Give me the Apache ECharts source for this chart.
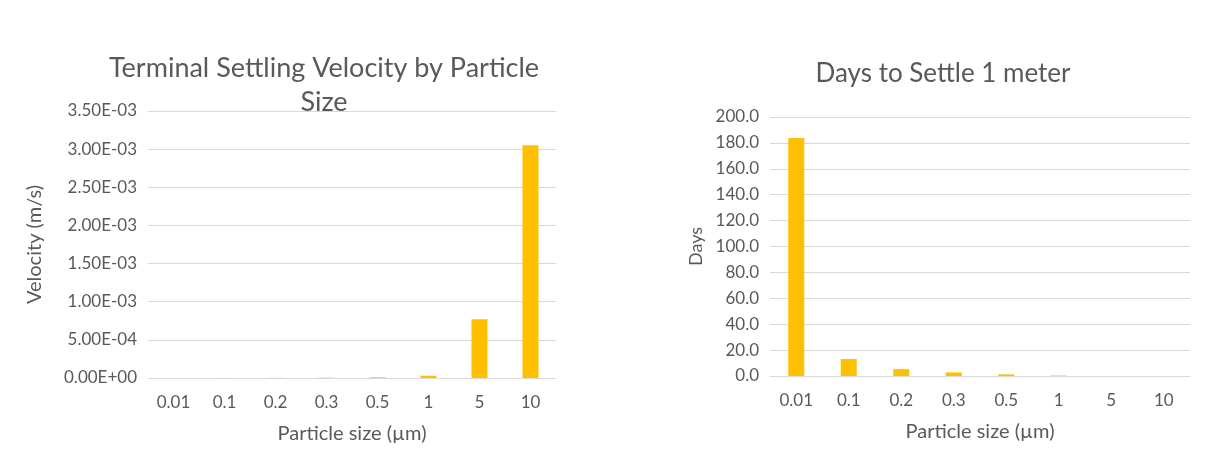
<!DOCTYPE html>
<html>
<head>
<meta charset="utf-8">
<script src="https://cdn.jsdelivr.net/npm/echarts@6/dist/echarts.min.js"></script>
<style>
  html, body { margin: 0; padding: 0; background: #fff; }
  #main { width: 1206px; height: 468px; }
</style>
</head>
<body>
<div id="main"></div>
<script>
// particle sizes in µm
let sizes = ['0.01', '0.1', '0.2', '0.3', '0.5', '1', '5', '10'];
// terminal settling velocity (m/s)
let velocity = [6.3e-8, 8.9e-7, 2.3e-6, 4.3e-6, 9.6e-6, 3.0e-5, 7.7e-4, 3.05e-3];
// days to settle 1 m
let days = [183.8, 13.1, 5.3, 2.8, 1.3, 0.4, 0.015, 0.004];

let txt = '#595959';
let font = 'Lato, "Open Sans", sans-serif';

let myChart = echarts.init(document.getElementById('main'));

function expLabel(v) {
    let s = Number(v).toExponential(2).toUpperCase();   // e.g. 3.50E-3
    return s.replace(/E([+-])(\d)$/, 'E$10$2');
}

let xAxisBase = {
    type: 'category',
    data: sizes,
    axisTick: { show: false },
    axisLine: { lineStyle: { color: '#d9d9d9', width: 1 } },
    axisLabel: { color: txt, fontSize: 17, fontFamily: font, margin: 16 },
    name: 'Particle size (µm)',
    nameLocation: 'middle',
    nameGap: 46,
    nameTextStyle: { color: txt, fontSize: 20, fontFamily: font }
};

let option = {
    animation: false,
    textStyle: { fontFamily: font },
    title: [
        {
            text: 'Terminal Settling Velocity by Particle\nSize',
            left: 319, top: 46, textAlign: 'center',
            textStyle: { color: txt, fontSize: 27, fontWeight: 'normal', fontFamily: font, lineHeight: 34 }
        },
        {
            text: 'Days to Settle 1 meter',
            left: 938, top: 56, textAlign: 'center',
            textStyle: { color: txt, fontSize: 26, fontWeight: 'normal', fontFamily: font }
        }
    ],
    grid: [
        { left: 148, right: 650, top: 111, bottom: 90 },
        { left: 770, right: 16, top: 117, bottom: 92 }
    ],
    xAxis: [
        Object.assign({ gridIndex: 0 }, xAxisBase),
        Object.assign({ gridIndex: 1 }, xAxisBase)
    ],
    yAxis: [
        {
            gridIndex: 0, type: 'value', min: 0, max: 0.0035, interval: 0.0005,
            axisLabel: { color: txt, fontSize: 17, fontFamily: font, margin: 11, formatter: expLabel },
            splitLine: { lineStyle: { color: '#d9d9d9', width: 1 } },
            name: 'Velocity (m/s)', nameLocation: 'middle', nameGap: 103, nameRotate: 90,
            nameTextStyle: { color: txt, fontSize: 20, fontFamily: font }
        },
        {
            gridIndex: 1, type: 'value', min: 0, max: 200, interval: 20,
            axisLabel: { color: txt, fontSize: 17, fontFamily: font, margin: 11,
                formatter: v => Number(v).toFixed(1) },
            splitLine: { lineStyle: { color: '#d9d9d9', width: 1 } },
            name: 'Days', nameLocation: 'middle', nameGap: 65, nameRotate: 90,
            nameTextStyle: { color: txt, fontSize: 18, fontFamily: font }
        }
    ],
    series: [
        {
            type: 'bar', xAxisIndex: 0, yAxisIndex: 0, data: velocity,
            barWidth: 16, itemStyle: { color: '#ffc000' }
        },
        {
            type: 'bar', xAxisIndex: 1, yAxisIndex: 1, data: days,
            barWidth: 16, itemStyle: { color: '#ffc000' }
        }
    ]
};

myChart.setOption(option);
</script>
</body>
</html>
